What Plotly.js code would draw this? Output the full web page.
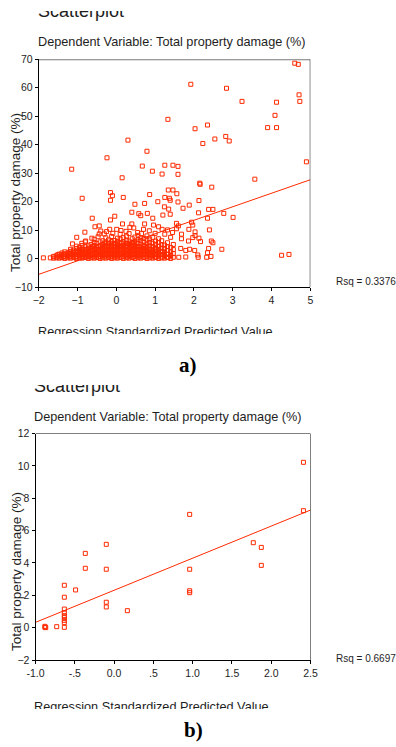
<!DOCTYPE html>
<html><head><meta charset="utf-8">
<script src="https://cdn.plot.ly/plotly-3.0.1.min.js"></script>
<style>
html,body{margin:0;padding:0;background:#fff;overflow:hidden}
#wrap{position:relative;width:396px;height:747px}
#chart{position:absolute;left:0;top:0;width:396px;height:747px}
.cover{position:absolute;background:#fff;pointer-events:none;z-index:10}
</style>
</head><body>
<div id="wrap">
<div id="chart"></div>
<div class="cover" style="left:0;top:0;width:200px;height:11px"></div>
<div class="cover" style="left:25px;top:334px;width:270px;height:12px"></div>
<div class="cover" style="left:25px;top:372px;width:120px;height:13.3px"></div>
<div class="cover" style="left:25px;top:708.5px;width:270px;height:9px"></div>
</div>
<script>
// ---------- data ----------
const xTicksA = [-2, -1, 0, 1, 2, 3, 4, 5];
const yTicksA = [-10, 0, 10, 20, 30, 40, 50, 60, 70];
const xTicksB = [-1, -0.5, 0, 0.5, 1, 1.5, 2, 2.5];
const xTickTextB = ['-1.0', '-.5', '0.0', '.5', '1.0', '1.5', '2.0', '2.5'];
const yTicksB = [-2, 0, 2, 4, 6, 8, 10, 12];

// chart a) : dense core of points
const topCore = [
[-1.62,0.2],[-1.62,0.8],[-1.55,0.3],[-1.55,1.0],
[-1.47,0.2],[-1.47,0.9],[-1.47,1.6],[-1.40,0.4],[-1.40,1.2],[-1.40,2.0],
[-1.33,0.1],[-1.33,0.8],[-1.33,1.7],[-1.33,2.4],[-1.25,0.3],[-1.25,1.1],[-1.25,2.0],
[-1.18,0.2],[-1.18,0.9],[-1.18,1.8],[-1.18,2.6],[-1.10,0.4],[-1.10,1.3],[-1.10,2.2],[-1.10,3.0],
[-1.03,0.1],[-1.03,0.7],[-1.03,1.6],[-1.03,2.5],[-1.03,3.6],[-1.03,4.4],
[-0.95,0.3],[-0.95,1.2],[-0.95,2.1],[-0.95,2.9],[-0.95,3.9],
[-0.88,0.2],[-0.88,0.9],[-0.88,1.8],[-0.88,2.7],[-0.88,3.4],[-0.88,4.6],
[-0.80,0.4],[-0.80,1.3],[-0.80,2.2],[-0.80,3.1],[-0.80,4.2],[-0.80,5.9],
[-0.72,0.1],[-0.72,0.8],[-0.72,1.7],[-0.72,2.6],[-0.72,3.5],[-0.72,4.5],
[-0.65,0.3],[-0.65,1.1],[-0.65,2.0],[-0.65,2.9],[-0.65,3.9],[-0.65,5.0],
[-0.57,0.2],[-0.57,0.9],[-0.57,1.8],[-0.57,2.7],[-0.57,3.6],[-0.57,4.6],[-0.57,5.7],[-0.57,6.8],
[-0.50,0.4],[-0.50,1.3],[-0.50,2.2],[-0.50,3.2],[-0.50,4.1],[-0.50,5.3],
[-0.42,0.1],[-0.42,0.8],[-0.42,1.6],[-0.42,2.5],[-0.42,3.4],[-0.42,4.5],[-0.42,5.9],
[-0.35,0.3],[-0.35,1.2],[-0.35,2.1],[-0.35,3.0],[-0.35,4.0],[-0.35,5.0],[-0.35,6.3],
[-0.27,0.2],[-0.27,1.0],[-0.27,1.9],[-0.27,2.8],[-0.27,3.7],[-0.27,4.7],[-0.27,5.8],[-0.27,7.3],
[-0.20,0.4],[-0.20,1.3],[-0.20,2.3],[-0.20,3.3],[-0.20,4.3],[-0.20,5.4],[-0.20,6.6],
[-0.12,0.1],[-0.12,0.9],[-0.12,1.8],[-0.12,2.7],[-0.12,3.7],[-0.12,4.8],[-0.12,6.0],[-0.12,7.8],
[-0.05,0.3],[-0.05,1.2],[-0.05,2.1],[-0.05,3.0],[-0.05,4.1],[-0.05,5.2],[-0.05,6.4],
[0.03,0.2],[0.03,1.0],[0.03,1.9],[0.03,2.9],[0.03,3.9],[0.03,4.9],[0.03,6.1],[0.03,7.2],
[0.10,0.4],[0.10,1.3],[0.10,2.3],[0.10,3.4],[0.10,4.5],[0.10,5.6],[0.10,6.9],[0.10,8.6],
[0.18,0.1],[0.18,0.8],[0.18,1.7],[0.18,2.6],[0.18,3.6],[0.18,4.7],[0.18,5.9],[0.18,7.4],
[0.26,0.3],[0.26,1.2],[0.26,2.1],[0.26,3.1],[0.26,4.2],[0.26,5.3],[0.26,6.5],[0.26,7.9],
[0.33,0.2],[0.33,1.0],[0.33,2.0],[0.33,2.9],[0.33,3.9],[0.33,5.0],[0.33,6.2],[0.33,8.8],
[0.41,0.4],[0.41,1.4],[0.41,2.4],[0.41,3.5],[0.41,4.6],[0.41,5.7],[0.41,7.0],
[0.48,0.1],[0.48,0.9],[0.48,1.8],[0.48,2.8],[0.48,3.8],[0.48,4.9],[0.48,6.1],[0.48,7.6],
[0.56,0.3],[0.56,1.2],[0.56,2.2],[0.56,3.2],[0.56,4.3],[0.56,5.4],[0.56,6.7],[0.56,8.2],
[0.63,0.2],[0.63,1.0],[0.63,2.0],[0.63,3.0],[0.63,4.0],[0.63,5.1],[0.63,6.3],[0.63,7.3],
[0.71,0.4],[0.71,1.4],[0.71,2.5],[0.71,3.6],[0.71,4.7],[0.71,5.9],[0.71,7.1],
[0.79,0.1],[0.79,0.9],[0.79,1.9],[0.79,2.9],[0.79,4.0],[0.79,5.2],[0.79,6.5],[0.79,8.0],
[0.86,0.3],[0.86,1.3],[0.86,2.3],[0.86,3.4],[0.86,4.5],[0.86,5.7],[0.86,6.9],
[0.94,0.2],[0.94,1.1],[0.94,2.1],[0.94,3.1],[0.94,4.2],[0.94,5.4],[0.94,7.4],
[1.01,0.4],[1.01,1.5],[1.01,2.6],[1.01,3.8],[1.01,5.0],[1.01,6.2],
[1.09,0.1],[1.09,1.0],[1.09,2.0],[1.09,3.2],[1.09,4.4],[1.09,5.7],[1.09,7.0],
[1.17,0.3],[1.17,1.4],[1.17,2.6],[1.17,3.7],[1.17,4.9],[1.17,6.3],
[1.24,0.2],[1.24,1.2],[1.24,2.3],[1.24,3.5],[1.24,4.8],
[1.32,0.4],[1.32,1.6],[1.32,2.9],[1.32,4.2],[1.32,5.6],
[1.40,0.1],[1.40,1.1],[1.40,2.4],[1.40,3.9],
[1.47,0.5],[1.47,1.8],[1.47,3.2],[1.47,5.0]
];

// chart a) : points filling the gaps of the dense band
const topCoreFill = [
[-1.51,0.6],[-1.51,1.4],[-1.36,0.6],[-1.36,1.5],
[-1.21,0.6],[-1.21,1.5],[-1.21,2.3],[-1.06,0.6],[-1.06,1.5],[-1.06,2.4],
[-0.91,0.6],[-0.91,1.5],[-0.91,2.4],[-0.91,3.3],[-0.76,0.6],[-0.76,1.5],[-0.76,2.4],[-0.76,3.3],
[-0.61,0.6],[-0.61,1.5],[-0.61,2.4],[-0.61,3.3],[-0.61,4.3],
[-0.46,0.6],[-0.46,1.5],[-0.46,2.4],[-0.46,3.3],[-0.46,4.3],
[-0.31,0.6],[-0.31,1.5],[-0.31,2.4],[-0.31,3.3],[-0.31,4.3],[-0.31,5.4],
[-0.16,0.6],[-0.16,1.5],[-0.16,2.4],[-0.16,3.3],[-0.16,4.3],[-0.16,5.4],
[-0.01,0.6],[-0.01,1.5],[-0.01,2.4],[-0.01,3.3],[-0.01,4.3],[-0.01,5.4],
[0.14,0.6],[0.14,1.5],[0.14,2.4],[0.14,3.3],[0.14,4.3],[0.14,5.4],
[0.29,0.6],[0.29,1.5],[0.29,2.4],[0.29,3.3],[0.29,4.3],[0.29,5.4],
[0.44,0.6],[0.44,1.5],[0.44,2.4],[0.44,3.3],[0.44,4.3],[0.44,5.4],
[0.59,0.6],[0.59,1.5],[0.59,2.4],[0.59,3.3],[0.59,4.3],
[0.74,0.6],[0.74,1.5],[0.74,2.4],[0.74,3.3],[0.74,4.3],
[0.89,0.6],[0.89,1.5],[0.89,2.4],[0.89,3.3],[1.04,0.6],[1.04,1.5],[1.04,2.4],[1.04,3.3],
[1.19,0.6],[1.19,1.5],[1.19,2.4],[1.34,0.6],[1.34,1.5]
];

// chart a) : scattered points
const topSparse = [
[-1.88,0.3],[-1.70,0.3],
[4.60,68.6],[4.69,68.2],[1.92,61.2],[2.84,59.8],[4.71,57.5],[3.24,55.2],[4.73,55.2],[4.13,54.9],
[4.09,50.3],[1.33,48.9],[3.90,46.0],[4.13,46.0],[2.03,45.6],[2.35,46.9],[0.30,41.6],[2.23,40.4],
[2.54,42.0],[2.82,42.9],[2.91,41.3],[0.79,37.7],[-0.24,35.4],[4.90,34.0],[-1.15,31.4],[0.67,32.5],
[0.93,30.7],[1.25,32.8],[1.46,32.8],[1.59,32.4],[1.18,29.7],[1.59,29.6],[0.15,28.4],[3.57,27.9],
[2.15,26.5],[2.16,26.1],[2.46,25.1],[-0.88,21.2],[-0.15,23.2],[-0.10,22.1],[-0.15,20.5],[0.18,21.5],
[0.86,22.5],[1.25,21.5],[1.34,24.1],[1.46,24.1],[1.56,22.8],[1.39,20.5],[1.59,19.9],[0.48,19.1],
[0.73,19.4],[1.07,20.0],[1.88,18.8],[2.13,20.4],[1.72,17.7],[2.12,16.1],[2.38,17.3],[2.49,17.3],
[2.77,15.9],[3.01,14.5],[2.35,14.2],[1.94,12.8],[1.97,11.8],[1.60,11.5],[2.40,10.1],[1.87,10.3],
[2.03,9.4],[2.03,8.1],[1.68,8.6],[1.97,7.4],[2.13,7.2],[1.86,6.2],[2.45,6.2],[2.49,5.6],[2.17,6.0],
[1.68,7.0],[2.72,3.3],[2.38,3.6],[2.35,2.1],[2.44,0.8],[2.33,0.5],[2.10,1.3],[2.11,0.5],[2.02,2.9],
[1.89,3.3],[1.79,2.9],[1.79,0.6],[1.66,3.6],[1.61,0.5],[4.26,1.2],[4.45,1.5],
[1.24,18.2],[1.37,21.2],[0.40,16.3],[0.58,15.8],[0.63,15.1],[-0.62,14.2],[-0.04,14.9],[-0.15,13.6],
[0.16,12.2],[0.40,12.2],[0.80,15.9],[0.94,14.2],[1.35,17.4],[1.39,15.6],[1.55,12.4],[1.20,15.3],
[-0.81,9.3],[-1.02,7.5],[-1.13,5.2],[-1.18,3.3],[-0.44,11.5],[-0.55,11.2],[-0.40,9.7],[-0.44,8.7],
[-0.47,7.7],[-0.31,8.7],[-0.17,10.3],[0.01,10.3],[-0.09,8.9],[0.73,12.2],[0.70,10.3],[0.96,11.8],
[1.09,11.2],[1.18,10.3],[1.32,10.1],[1.55,10.5],[-0.79,6.2],[-0.89,5.4],[-0.63,7.2],
[0.25,9.6],[0.45,10.8],[0.55,9.2],[0.85,9.8],[1.00,8.9],[0.35,11.0],[-0.25,9.5],[0.12,9.9],
[0.65,8.8],[1.25,8.6],[1.40,7.5],[1.45,9.2]
];

// chart b) points
const bottomPts = [
[-0.88,0.02],[-0.88,0.08],[-0.87,0.0],[-0.73,0.06],
[-0.633,2.62],[-0.633,1.88],[-0.633,1.15],[-0.633,0.92],[-0.633,0.74],[-0.633,0.62],
[-0.633,0.45],[-0.633,0.31],[-0.633,0.02],
[-0.49,2.33],[-0.366,4.59],[-0.366,3.67],[-0.099,5.15],[-0.099,3.61],[-0.099,1.57],[-0.099,1.28],
[0.169,1.05],[0.962,7.0],[0.962,3.61],[0.962,2.28],[0.962,2.16],[1.772,5.25],[1.874,4.96],
[1.874,3.85],[2.41,10.22],[2.41,7.23]
];

// fitted lines: [intercept, slope]
const fitA = [3.99, 4.743];
const fitB = [2.31, 1.983];
const rsqA = 'Rsq = 0.3376';
const rsqB = 'Rsq = 0.6697';

// ---------- layout helpers ----------
const W = 396, H = 747;
const fx = p => p / W;
const fy = p => 1 - p / H;
const RED = '#ff2a00';
const FONT = 'Liberation Sans, Arial, sans-serif';
const TXT = '#1e1e1e';

const rangeA = [-2, 5], rangeAy = [-10, 70];
const rangeB = [-1, 2.5], rangeBy = [-2, 12];

const allTop = topCore.concat(topCoreFill, topSparse);
const marker = {symbol: 'square-open', size: 4, color: RED, line: {width: 1, color: RED}};

const traces = [
  {type: 'scatter', mode: 'markers', x: allTop.map(p => p[0]), y: allTop.map(p => p[1]),
   xaxis: 'x', yaxis: 'y', marker: marker, cliponaxis: false},
  {type: 'scatter', mode: 'lines', x: rangeA, y: rangeA.map(v => fitA[0] + fitA[1] * v),
   xaxis: 'x', yaxis: 'y', line: {color: RED, width: 1}},
  {type: 'scatter', mode: 'markers', x: bottomPts.map(p => p[0]), y: bottomPts.map(p => p[1]),
   xaxis: 'x2', yaxis: 'y2', marker: marker, cliponaxis: false},
  {type: 'scatter', mode: 'lines', x: rangeB, y: rangeB.map(v => fitB[0] + fitB[1] * v),
   xaxis: 'x2', yaxis: 'y2', line: {color: RED, width: 1}}
];

const axisBase = {
  showgrid: false, zeroline: false, showline: true, linecolor: '#000', linewidth: 1,
  ticks: 'outside', ticklen: 3, tickwidth: 1, tickcolor: '#000',
  tickfont: {family: FONT, size: 10.5, color: TXT}, fixedrange: true
};

function ann(text, xp, yp, size, opts) {
  return Object.assign({text: text, xref: 'paper', yref: 'paper', x: fx(xp), y: fy(yp),
    xanchor: 'left', yanchor: 'middle', showarrow: false,
    font: {family: FONT, size: size, color: TXT}}, opts || {});
}

const layout = {
  width: W, height: H, margin: {l: 0, r: 0, t: 0, b: 0},
  paper_bgcolor: '#fff', plot_bgcolor: '#fff', showlegend: false,
  xaxis: Object.assign({}, axisBase, {domain: [fx(38.7), fx(310.3)], range: rangeA, anchor: 'y',
    tickvals: xTicksA}),
  yaxis: Object.assign({}, axisBase, {domain: [fy(287.2), fy(59.2)], range: rangeAy, anchor: 'x',
    tickvals: yTicksA}),
  xaxis2: Object.assign({}, axisBase, {domain: [fx(35.5), fx(310.5)], range: rangeB, anchor: 'y2',
    tickvals: xTicksB, ticktext: xTickTextB}),
  yaxis2: Object.assign({}, axisBase, {domain: [fy(660), fy(433.5)], range: rangeBy, anchor: 'x2',
    tickvals: yTicksB}),
  shapes: [
    {type: 'line', xref: 'x', yref: 'y', x0: rangeA[0], x1: rangeA[1], y0: rangeAy[1], y1: rangeAy[1],
     line: {color: '#7a7a7a', width: 2}},
    {type: 'line', xref: 'x', yref: 'y', x0: rangeA[1], x1: rangeA[1], y0: rangeAy[0], y1: rangeAy[1],
     line: {color: '#000', width: 1}},
    {type: 'line', xref: 'x2', yref: 'y2', x0: rangeB[0], x1: rangeB[1], y0: rangeBy[1], y1: rangeBy[1],
     line: {color: '#000', width: 1}},
    {type: 'line', xref: 'x2', yref: 'y2', x0: rangeB[1], x1: rangeB[1], y0: rangeBy[0], y1: rangeBy[1],
     line: {color: '#000', width: 1}}
  ],
  annotations: [
    ann('Scatterplot', 35.5, 10.9, 18),
    ann('Dependent Variable: Total property damage (%)', 35.5, 41.7, 12.7),
    ann('Total property damage (%)', 15.5, 192.5, 13.5, {xanchor: 'center', textangle: -90}),
    ann(rsqA, 333.5, 281.7, 10),
    ann('Regression Standardized Predicted Value', 35.5, 331.5, 12.7),
    ann('a)', 188, 365, 21, {xanchor: 'center', font: {family: 'Liberation Serif, Times New Roman, serif', size: 21, color: '#000', weight: 'bold'}}),
    ann('Scatterplot', 31.5, 385.5, 18),
    ann('Dependent Variable: Total property damage (%)', 31.5, 416.7, 12.7),
    ann('Total property damage (%)', 16, 572, 13.5, {xanchor: 'center', textangle: -90}),
    ann(rsqB, 333.5, 658, 10),
    ann('Regression Standardized Predicted Value', 31.5, 706.5, 12.7),
    ann('b)', 193, 730, 21, {xanchor: 'center', font: {family: 'Liberation Serif, Times New Roman, serif', size: 21, color: '#000', weight: 'bold'}})
  ]
};

Plotly.newPlot('chart', traces, layout, {staticPlot: true, displayModeBar: false});
</script>
</body></html>
